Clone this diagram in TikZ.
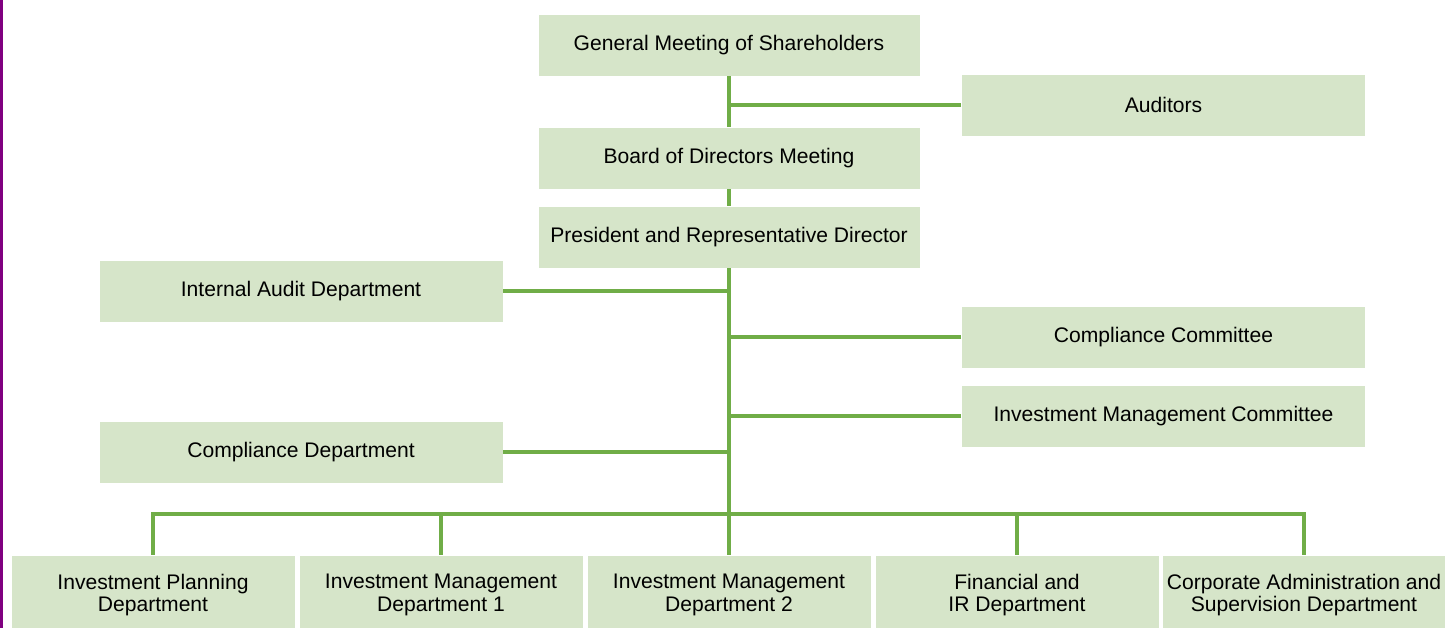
\documentclass[tikz,border=0pt]{standalone}
\usepackage{fontspec}
\setmainfont{Liberation Sans}
\definecolor{boxgreen}{HTML}{D6E5C9}
\definecolor{linegreen}{HTML}{70AD47}
\definecolor{edgepurple}{HTML}{800080}
\begin{document}
\begin{tikzpicture}[
    unit/.style={fill=boxgreen, draw=white, thin, inner sep=0pt, align=center,
      font=\fontsize{12}{12.6}\selectfont},
    top/.style={unit, minimum width=7.64cm, minimum height=1.24cm},
    side/.style={unit, minimum width=8.08cm, minimum height=1.24cm},
    dept/.style={unit, minimum width=5.68cm, minimum height=1.6cm},
    link/.style={linegreen, line width=0.08cm}]
      \useasboundingbox (0,0) rectangle (28.9,12.56);
      \fill[edgepurple] (0,0) rectangle (0.05,12.56);
      \node[top] (gms) at (14.58,11.66) {General Meeting of Shareholders};
      \node[side] (aud) at (23.27,10.46) {Auditors};
      \node[top] (bod) at (14.58,9.40) {Board of Directors Meeting};
      \node[top] (pres) at (14.58,7.82) {President and Representative Director};
      \node[side] (iad) at (6.02,6.73) {Internal Audit Department};
      \node[side] (cc) at (23.27,5.82) {Compliance Committee};
      \node[side] (imc) at (23.27,4.23) {Investment Management Committee};
      \node[side] (cd) at (6.02,3.52) {Compliance Department};
      \node[dept] (ipd) at (3.06,0.66) {Investment Planning\\Department};
      \node[dept] (imd1) at (8.82,0.66) {Investment Management\\Department 1};
      \node[dept] (imd2) at (14.58,0.66) {Investment Management\\Department 2};
      \node[dept] (fir) at (20.34,0.66) {Financial and\\IR Department};
      \node[dept] (cas) at (26.08,0.66) {Corporate Administration and\\Supervision Department};
      \coordinate (bus) at (14.58,2.28);
      \draw[link] (gms) -- (bod);
      \draw[link] (bod) -- (pres);
      \draw[link] (pres) -- (imd2);
      \draw[link] (aud.west) -- (aud.west -| gms.south);
      \draw[link] (iad.east) -- (iad.east -| pres.south);
      \draw[link] (cc.west) -- (cc.west -| pres.south);
      \draw[link] (imc.west) -- (imc.west -| pres.south);
      \draw[link] (cd.east) -- (cd.east -| pres.south);
      \draw[link] (ipd.north) |- (bus) -| (cas.north);
      \foreach \d in {imd1,fir}
        \draw[link] (\d.north) -- (\d.north |- bus);
    \end{tikzpicture}
\end{document}
